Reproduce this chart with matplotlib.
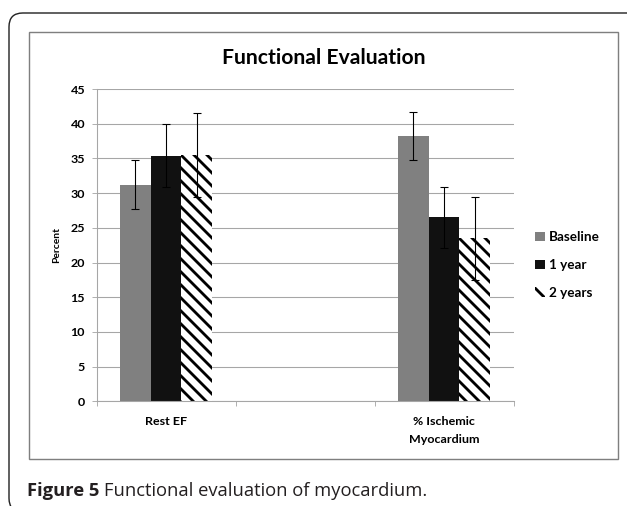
import numpy as np
import matplotlib
matplotlib.use("Agg")
import matplotlib.pyplot as plt
from matplotlib.patches import FancyBboxPatch, Rectangle

# ---- data ----
categories = ["Rest EF", "", "% Ischemic\nMyocardium"]
series_names = ["Baseline", "1 year", "2 years"]
baseline = [31.2, np.nan, 38.2]
year1 = [35.4, np.nan, 26.5]
year2 = [35.5, np.nan, 23.5]
baseline_err = [3.5, np.nan, 3.5]
year1_err = [4.5, np.nan, 4.45]
year2_err = [6.0, np.nan, 6.0]
y_ticks = [0, 5, 10, 15, 20, 25, 30, 35, 40, 45]

W, H = 627, 506
DPI = 78
plt.rcParams['hatch.linewidth'] = 2.6
fig = plt.figure(figsize=(W / DPI, H / DPI), dpi=DPI)

def fx(x):
    return x / W

def fy(y):
    return 1 - y / H

CH = ['Lato', 'DejaVu Sans']

# outer rounded frame and inner chart box
outer = FancyBboxPatch((fx(9), fy(512)), fx(660) - fx(9), fy(13) - fy(512),
                       boxstyle="round,pad=0,rounding_size=0.022",
                       transform=fig.transFigure, fill=False, ec='#222222', lw=1.3,
                       mutation_aspect=W / H)
fig.patches.append(outer)
inner = Rectangle((fx(29), fy(459)), fx(618) - fx(29), fy(32) - fy(459),
                  transform=fig.transFigure, fill=False, ec='#7f7f7f', lw=1.3)
fig.patches.append(inner)

ax = fig.add_axes([fx(96.5), fy(401.3), fx(513.5) - fx(96.5), fy(89) - fy(401.3)])
x = np.arange(len(categories))
bw = 0.223
colors = ['#808080', '#111111', 'white']
vals = [baseline, year1, year2]
errs = [baseline_err, year1_err, year2_err]
for i, (v, e, c, name) in enumerate(zip(vals, errs, colors, series_names)):
    pos = x + (i - 1) * bw
    if i == 2:
        ax.bar(pos, v, bw, color='white', edgecolor='black', linewidth=0,
               hatch='\\\\', label=name, zorder=2)
    else:
        ax.bar(pos, v, bw, color=c, linewidth=0, label=name, zorder=2)
    ax.errorbar(pos, v, yerr=e, fmt='none', ecolor='black', elinewidth=1.0,
                capsize=3.8, capthick=1.0, zorder=3)

ax.set_xlim(-0.5, 2.5)
ax.set_ylim(0, 45)
ax.set_yticks(y_ticks)
ax.set_yticklabels([str(t) for t in y_ticks], family=CH, fontweight='bold', fontsize=11.5)
ax.yaxis.grid(True, color='#a6a6a6', lw=1.0, zorder=0)
ax.set_axisbelow(True)
ax.set_xticks([-0.5, 0.5, 1.5, 2.5])
ax.set_xticklabels([])
ax.set_xticks(x, minor=True)
ax.set_xticklabels(categories, minor=True, family=CH, fontweight='bold', fontsize=11.5,
                   linespacing=1.7)
ax.tick_params(axis='x', which='minor', length=0, pad=14)
ax.tick_params(axis='x', which='major', length=4.5, color='#a6a6a6', direction='out')
ax.tick_params(axis='y', length=4.5, color='#a6a6a6', direction='out', pad=6)
for s in ['top', 'right']:
    ax.spines[s].set_visible(False)
for s in ['left', 'bottom']:
    ax.spines[s].set_color('#a6a6a6')
    ax.spines[s].set_linewidth(1.0)

ax.set_ylabel("Percent", family=CH, fontweight='bold', fontsize=9.5, labelpad=9)

fig.text(fx(323.5), fy(58), "Functional Evaluation", family=CH, fontweight='bold',
         fontsize=19.5, ha='center', va='center')

leg = ax.legend(loc='center left', bbox_to_anchor=(fx(523), fy(265)),
                bbox_transform=fig.transFigure, frameon=False,
                prop={'family': CH, 'weight': 'bold', 'size': 12.5},
                handlelength=0.7, handleheight=0.7, handletextpad=0.3,
                labelspacing=1.15)

cap_y = fy(496)
t1 = fig.text(fx(27), cap_y, "Figure 5", family=['Open Sans', 'DejaVu Sans'],
              fontweight='bold', fontsize=17, ha='left', va='baseline', color='#231f20')
fig.canvas.draw()
bb = t1.get_window_extent()
fig.text(bb.x1 / W + fx(5), cap_y, "Functional evaluation of myocardium.",
         family=['Open Sans', 'DejaVu Sans'], fontsize=17, ha='left', va='baseline',
         color='#231f20')

fig.savefig("out.png", dpi=DPI)
